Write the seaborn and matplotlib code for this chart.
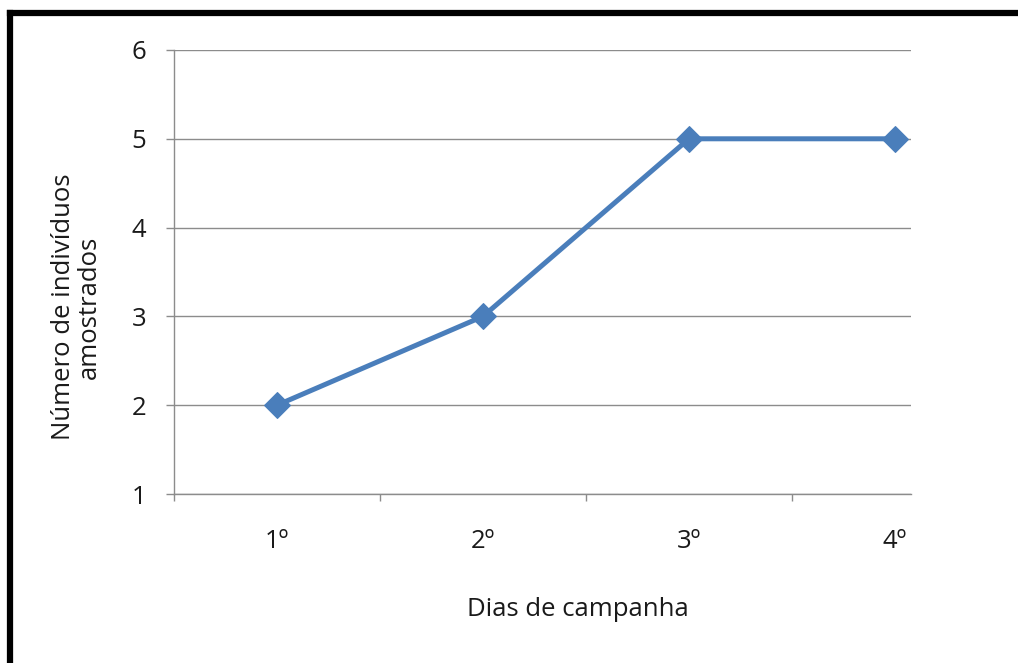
import matplotlib
matplotlib.use("Agg")
import matplotlib.pyplot as plt
from matplotlib.lines import Line2D
import seaborn as sns
import pandas as pd

# Sampling effort over the campaign days
dias = ["1º", "2º", "3º", "4º"]
individuos = [2, 3, 5, 5]
y_ticks = [1, 2, 3, 4, 5, 6]

sns.set_theme(style="white")
plt.rcParams["font.family"] = ["Open Sans", "DejaVu Sans"]

df = pd.DataFrame({"dia": dias, "n": individuos})

fig = plt.figure(figsize=(10.18, 6.63), dpi=100)
ax = fig.add_axes([0.1709, 0.2549, 0.8949 - 0.1709, 0.9246 - 0.2549])

grid_col = "#8c8c8c"
line_col = "#4a7ebb"
text_col = "#1a1a1a"
fs = 18.5

sns.lineplot(data=df, x="dia", y="n", ax=ax, color=line_col, linewidth=3.6,
             marker="D", markersize=13, markeredgecolor=line_col,
             markerfacecolor=line_col, zorder=3, sort=False)

ax.set_ylim(1, 6)
ax.set_yticks(y_ticks)
ax.set_xlim(-0.5, 3.078)

# category labels centred, tick marks on the category boundaries
ax.set_xticks(range(len(dias)))
ax.set_xticklabels(dias)
ax.set_xticks([-0.5, 0.5, 1.5, 2.5], minor=True)
ax.tick_params(axis="x", which="major", length=0, pad=25, labelsize=fs, labelcolor=text_col)
ax.tick_params(axis="x", which="minor", direction="out", length=5, width=1, color=grid_col, bottom=True)
ax.tick_params(axis="y", direction="out", length=6, width=1, color=grid_col, left=True,
               pad=14, labelsize=fs, labelcolor=text_col)

ax.yaxis.grid(True, color=grid_col, linewidth=1)
ax.xaxis.grid(False)
for side in ["top", "right"]:
    ax.spines[side].set_visible(False)
for side in ["left", "bottom"]:
    ax.spines[side].set_color(grid_col)
    ax.spines[side].set_linewidth(1)

ax.set_xlabel("")
ax.set_ylabel("")

fig.text(578 / 1018, 1 - 609 / 663, "Dias de campanha", ha="center", va="center",
         fontsize=fs, color=text_col)
fig.text(76 / 1018, 1 - 307 / 663, "Número de indivíduos\namostrados", ha="center",
         va="center", rotation=90, fontsize=fs, color=text_col, linespacing=1.05)

# frame edges along the top and left of the canvas
fig.add_artist(Line2D([10 / 1018, 1.01], [1 - 13 / 663, 1 - 13 / 663],
                      transform=fig.transFigure, color="black", linewidth=4.5,
                      solid_capstyle="projecting"))
fig.add_artist(Line2D([10 / 1018, 10 / 1018], [1 - 13 / 663, -0.01],
                      transform=fig.transFigure, color="black", linewidth=4.5,
                      solid_capstyle="projecting"))

fig.savefig("out.png", dpi=100, facecolor="white")
